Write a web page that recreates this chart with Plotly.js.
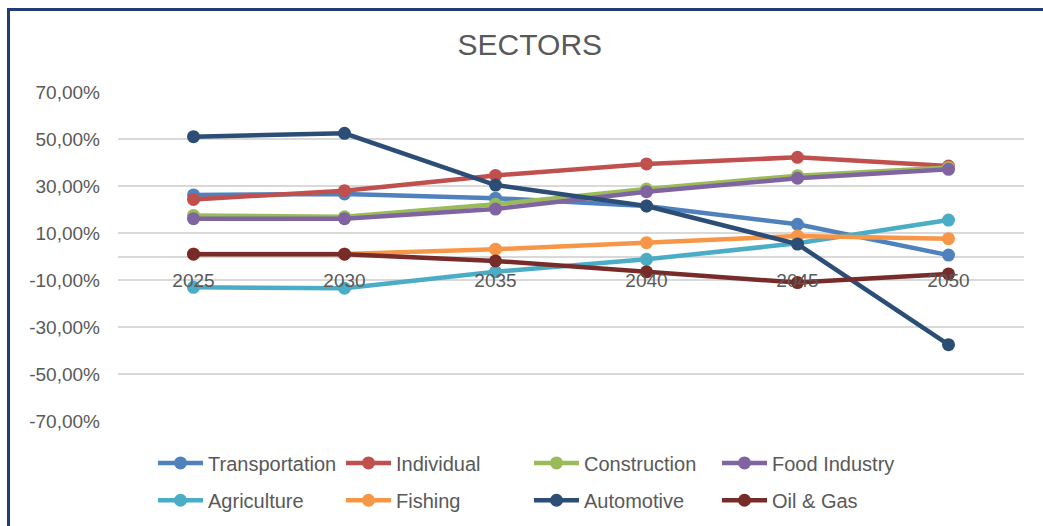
<!DOCTYPE html>
<html>
<head>
<meta charset="utf-8">
<script src="https://cdn.plot.ly/plotly-3.0.1.min.js"></script>
<style>
  html, body { margin: 0; padding: 0; background: #fff; }
  #wrap { position: relative; width: 1043px; height: 526px; overflow: hidden; }
  #chart { position: absolute; left: 0; top: 0; width: 1043px; height: 526px; }
  #frame { position: absolute; left: 7px; top: 8px; width: 1100px; height: 600px;
           border-left: 3px solid #1F3C78; border-top: 3px solid #1F3C78; pointer-events: none; }
</style>
</head>
<body>
<div id="wrap">
  <div id="chart"></div>
  <div id="frame"></div>
</div>
<script>
const years = ['2025', '2030', '2035', '2040', '2045', '2050'];

const transportation = [26.2, 26.6, 24.8, 21.5, 13.7, 0.6];
const individual     = [24.3, 28.0, 34.5, 39.4, 42.2, 38.5];
const construction   = [17.5, 16.9, 22.2, 28.7, 34.4, 37.9];
const foodIndustry   = [16.1, 16.1, 20.2, 27.6, 33.3, 37.1];
const agriculture    = [-13.1, -13.5, -6.5, -1.2, 5.6, 15.5];
const fishing        = [1.1, 1.1, 3.1, 5.9, 8.7, 7.6];
const automotive     = [51.0, 52.4, 30.4, 21.5, 5.3, -37.5];
const oilGas         = [1.0, 1.0, -1.9, -6.5, -11.1, -7.4];

const yTickVals = [-70, -50, -30, -10, 10, 30, 50, 70];
const yTickText = ['-70,00%', '-50,00%', '-30,00%', '-10,00%', '10,00%', '30,00%', '50,00%', '70,00%'];

const series = [
  {name: 'Transportation', y: transportation, color: '#4F81BD', legend: 'legend'},
  {name: 'Individual',     y: individual,     color: '#C0504D', legend: 'legend'},
  {name: 'Construction',   y: construction,   color: '#9BBB59', legend: 'legend'},
  {name: 'Food Industry',  y: foodIndustry,   color: '#8064A2', legend: 'legend'},
  {name: 'Agriculture',    y: agriculture,    color: '#4BACC6', legend: 'legend2'},
  {name: 'Fishing',        y: fishing,        color: '#F79646', legend: 'legend2'},
  {name: 'Automotive',     y: automotive,     color: '#2C4D75', legend: 'legend2'},
  {name: 'Oil & Gas',      y: oilGas,         color: '#772C2A', legend: 'legend2'}
];

const traces = series.map(s => ({
  type: 'scatter',
  mode: 'lines+markers',
  name: s.name,
  x: years,
  y: s.y,
  legend: s.legend,
  line: {color: s.color, width: 4.5},
  marker: {color: s.color, size: 13}
}));

const FONT = 'Liberation Sans, Arial, sans-serif';

const legendCommon = {
  orientation: 'h',
  xref: 'container',
  yref: 'container',
  xanchor: 'left',
  yanchor: 'middle',
  x: 0.1467,
  entrywidth: 128,
  entrywidthmode: 'pixels',
  itemwidth: 45,
  font: {family: FONT, size: 20, color: '#595959'},
  bgcolor: 'rgba(0,0,0,0)',
  traceorder: 'normal'
};

const layout = {
  width: 1043,
  height: 526,
  paper_bgcolor: '#ffffff',
  plot_bgcolor: '#ffffff',
  margin: {l: 118, r: 19, t: 92, b: 105},
  title: {
    text: 'SECTORS',
    x: 0.508, xanchor: 'center',
    y: 0.915, yanchor: 'middle',
    font: {family: FONT, size: 30, color: '#595959'}
  },
  font: {family: FONT, color: '#595959'},
  xaxis: {
    type: 'category',
    range: [-0.5, 5.5],
    anchor: 'free',
    position: 0.5,
    showgrid: false,
    showline: false,
    zeroline: false,
    ticks: 'outside',
    ticklen: 7,
    tickcolor: 'rgba(0,0,0,0)',
    tickfont: {family: FONT, size: 19, color: '#595959'}
  },
  yaxis: {
    range: [-70, 70],
    tickvals: yTickVals,
    ticktext: yTickText,
    showgrid: true,
    gridcolor: '#D9D9D9',
    gridwidth: 2,
    zeroline: true,
    zerolinecolor: '#D9D9D9',
    zerolinewidth: 2,
    showline: false,
    ticks: '',
    ticklabelstandoff: 17,
    tickfont: {family: FONT, size: 19, color: '#595959'}
  },
  legend: Object.assign({}, legendCommon, {y: 0.120}),
  legend2: Object.assign({}, legendCommon, {y: 0.049}),
  showlegend: true
};

Plotly.newPlot('chart', traces, layout, {displayModeBar: false, staticPlot: true});
</script>
</body>
</html>
